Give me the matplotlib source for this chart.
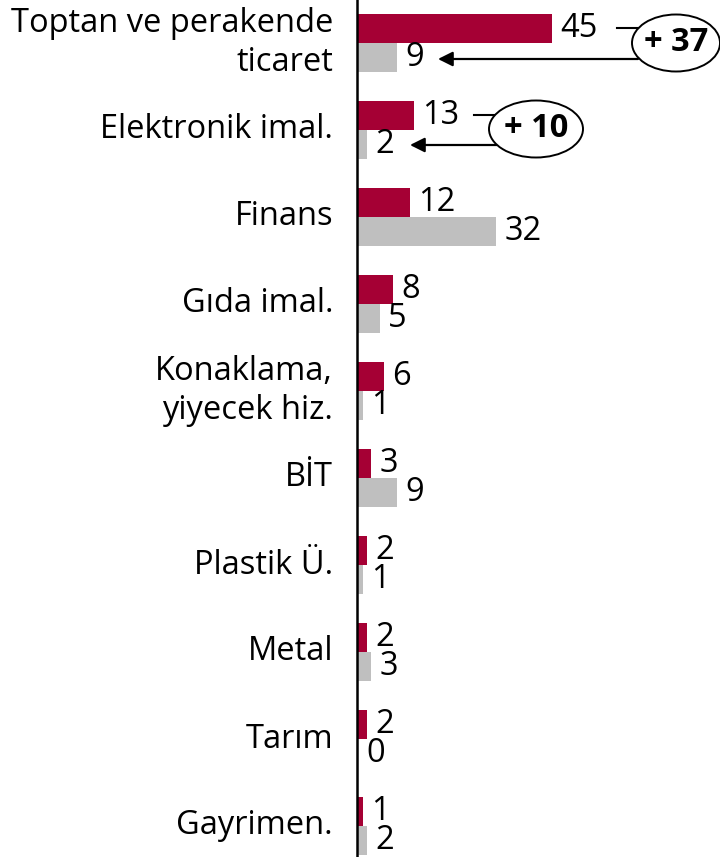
import matplotlib
matplotlib.use("Agg")
import matplotlib.pyplot as plt
from matplotlib.patches import Ellipse

categories = ["Toptan ve perakende\nticaret", "Elektronik imal.", "Finans", "Gıda imal.",
              "Konaklama,\nyiyecek hiz.", "BİT", "Plastik Ü.", "Metal", "Tarım", "Gayrimen."]
red_vals = [45, 13, 12, 8, 6, 3, 2, 2, 2, 1]
grey_vals = [9, 2, 32, 5, 1, 9, 1, 3, 0, 2]
diff_labels = ["+ 37", "+ 10"]

RED = "#A50034"
GREY = "#BFBFBF"
FONT = ["Open Sans", "DejaVu Sans"]
FS = 23.5

W, H = 720, 857
fig = plt.figure(figsize=(W / 100, H / 100), dpi=100)
ax_left = 357 / W
ax = fig.add_axes([ax_left, 0, 1 - ax_left, 1])

pxu = 4.3  # pixels per unit
spacing = 87.0
xmax = (W - 357) / pxu
ax.set_xlim(0, xmax)
ax.set_ylim((H - 43) / spacing, -43 / spacing)

off = 0.167
bh = 0.335
ys = list(range(len(categories)))
ax.barh([y - off for y in ys], red_vals, height=bh, color=RED, left=0.3)
ax.barh([y + off for y in ys], grey_vals, height=bh, color=GREY, left=0.3)

for y, r, g in zip(ys, red_vals, grey_vals):
    ax.annotate(str(r), (r + 0.3, y - off), xytext=(6, 0), textcoords="offset points",
                va="center", ha="left", fontsize=FS, family=FONT)
    ax.annotate(str(g), (g + 0.3, y + off), xytext=(6, 0), textcoords="offset points",
                va="center", ha="left", fontsize=FS, family=FONT)
    ax.text(-24 / pxu, y, categories[y], ha="right", va="center", fontsize=FS,
            family=FONT, linespacing=1.25, clip_on=False)

def px2x(px):
    return (px - 357) / pxu

def py2y(py):
    return (py - 43) / spacing

ann = [
    dict(cx=676, cy=43, w=88, h=57, line=(617, 640, 28.5), arr=(638, 438, 59), text=diff_labels[0]),
    dict(cx=536, cy=129, w=94, h=57, line=(474, 497, 115.5), arr=(497, 410, 145), text=diff_labels[1]),
]
for a in ann:
    ax.plot([px2x(a["line"][0]), px2x(a["line"][1])], [py2y(a["line"][2])] * 2,
            color="black", lw=1.5, clip_on=False)
    ax.annotate("", xy=(px2x(a["arr"][1]), py2y(a["arr"][2])),
                xytext=(px2x(a["arr"][0]), py2y(a["arr"][2])),
                arrowprops=dict(arrowstyle="-|>", color="black", lw=1.6, mutation_scale=22,
                                shrinkA=0, shrinkB=0))
    e = Ellipse((px2x(a["cx"]), py2y(a["cy"])), a["w"] / pxu, a["h"] / spacing,
                facecolor="white", edgecolor="black", lw=1.4, zorder=5, clip_on=False)
    ax.add_patch(e)
    ax.text(px2x(a["cx"]), py2y(a["cy"]), a["text"], ha="center", va="center",
            fontsize=FS, fontweight="bold", family=FONT, zorder=6)

for s in ["top", "right", "bottom"]:
    ax.spines[s].set_visible(False)
ax.spines["left"].set_linewidth(1.8)
ax.set_xticks([])
ax.set_yticks([])

fig.savefig("out.png", dpi=100)
